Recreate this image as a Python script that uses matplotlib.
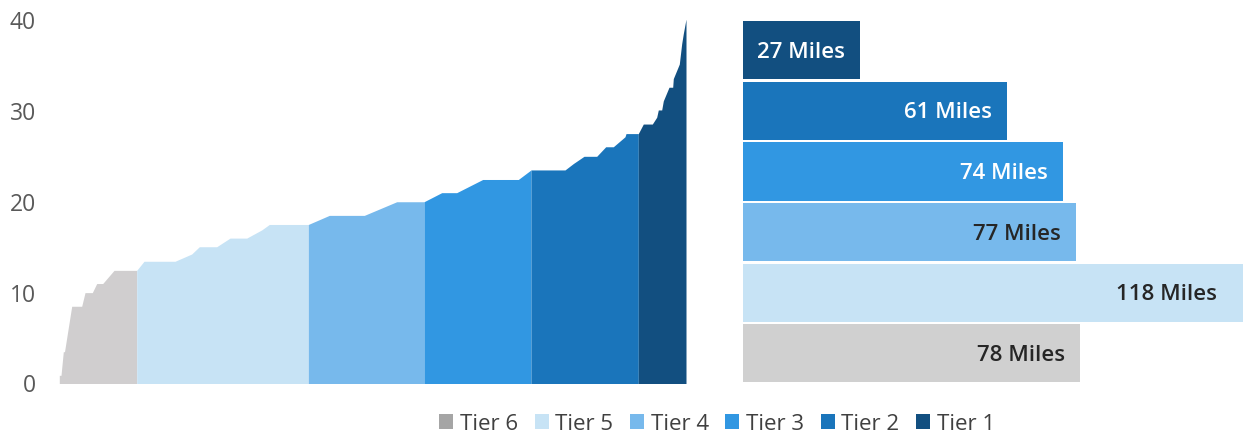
import numpy as np
import matplotlib
matplotlib.use("Agg")
import matplotlib.pyplot as plt
from matplotlib.patches import Patch

plt.rcParams['font.family'] = ['Open Sans', 'DejaVu Sans']

# ---- data ----
tiers = ["Tier 6", "Tier 5", "Tier 4", "Tier 3", "Tier 2", "Tier 1"]
miles = [78, 118, 77, 74, 61, 27]
area_colors = ["#D0CECF", "#C7E3F5", "#77B9EC", "#3197E2", "#1A75BB", "#124F80"]
bar_colors = ["#D0D0D0", "#C7E3F5", "#77B9EC", "#3197E2", "#1A75BB", "#124F80"]
legend_colors = ["#A5A5A5", "#C7E3F5", "#77B9EC", "#3197E2", "#1A75BB", "#124F80"]
label_colors = ["#262626", "#262626", "#262626", "white", "white", "white"]

# cumulative position along the route (arbitrary units) and value
curve_x = [0.0, 1.7, 4.0, 5.2, 12.4, 22.4, 25.7, 33.0, 37.4, 43.4, 54.7, 77.4,
           84.7, 115.7, 132.4, 140.0, 157.4, 170.7, 187.4, 202.4, 210.0, 249.0,
           270.0, 305.0, 337.4, 364.7,
           382.4, 397.4, 423.4, 459.0, 471.7,
           505.7, 514.0, 524.7, 537.4, 546.4, 554.0, 565.7, 566.7, 579.0,
           584.0, 593.0, 597.4, 599.0, 602.4, 604.0, 609.7, 613.4, 614.0, 620.0,
           622.4, 624.0, 626.7]
curve_y = [0.9, 0.9, 3.5, 3.5, 8.5, 8.5, 10.0, 10.0, 11.0, 11.0, 12.45, 12.45,
           13.45, 13.45, 14.25, 15.05, 15.05, 16.0, 16.0, 16.9, 17.5, 17.5,
           18.5, 18.5, 20.0, 20.0,
           21.0, 21.0, 22.45, 22.45, 23.5,
           23.5, 24.2, 25.0, 25.0, 26.05, 26.05, 27.15, 27.5, 27.5,
           28.55, 28.55, 29.3, 30.1, 30.1, 31.1, 32.6, 32.6, 33.55, 35.15,
           37.4, 38.5, 40.1]
tier_bounds = [0.0, 77.4, 249.0, 364.7, 471.7, 579.0, 626.7]
y_ticks = [0, 10, 20, 30, 40]

W, H = 1243, 438
fig = plt.figure(figsize=(W / 100, H / 100), dpi=100)

y_bot, y_top = 383.5, 20.0
ax_b = (H - y_bot) / H
ax_h = (y_bot - y_top) / H

# ---- left area chart ----
x0_px, x1_px = 59.3, 686.0
ax = fig.add_axes([x0_px / W, ax_b, (x1_px - x0_px) / W, ax_h])
cx = np.array(curve_x)
cy = np.array(curve_y)
for i in range(6):
    a, b = tier_bounds[i], tier_bounds[i + 1]
    m = (cx > a) & (cx < b)
    xs = np.concatenate([[a], cx[m], [b]])
    ys = np.concatenate([[np.interp(a, cx, cy)], cy[m], [np.interp(b, cx, cy)]])
    ax.fill_between(xs, 0, ys, color=area_colors[i], linewidth=0)
ax.set_xlim(tier_bounds[0], tier_bounds[-1])
ax.set_ylim(0, 40)
ax.set_yticks(y_ticks)
ax.set_xticks([])
ax.tick_params(axis='y', length=0, pad=17, labelsize=16.5, labelcolor="#595959")
for s in ax.spines.values():
    s.set_visible(False)

# ---- right bar chart ----
bx0 = 743
bar_ax = fig.add_axes([bx0 / W, ax_b, (W - bx0) / W, ax_h])
px_per_mile = 4.32
xmax = (W - bx0) / px_per_mile
ypos = np.arange(len(tiers))
bar_ax.barh(ypos, miles, height=0.96, color=bar_colors, linewidth=0)
bar_ax.set_xlim(0, xmax)
bar_ax.set_ylim(-0.5, len(tiers) - 0.5)
bar_ax.axis('off')
for i, v in enumerate(miles):
    xv = min(v, xmax)
    off = -15 if v <= xmax else -26
    bar_ax.annotate(f"{v} Miles", xy=(xv, ypos[i]), xytext=(off * 0.72, -1.5),
                    textcoords='offset points', ha='right', va='center',
                    fontsize=16, fontweight='semibold', color=label_colors[i])

# ---- legend ----
handles = [Patch(facecolor=c, edgecolor='none') for c in legend_colors]
fig.legend(handles, tiers, loc='center', bbox_to_anchor=(717 / W, 1 - 424 / H),
           ncol=6, frameon=False, fontsize=16, labelcolor="#404040",
           handlelength=0.63, handleheight=0.63, handletextpad=0.3,
           columnspacing=0.75, borderpad=0, borderaxespad=0)

fig.savefig("out.png", dpi=100)
